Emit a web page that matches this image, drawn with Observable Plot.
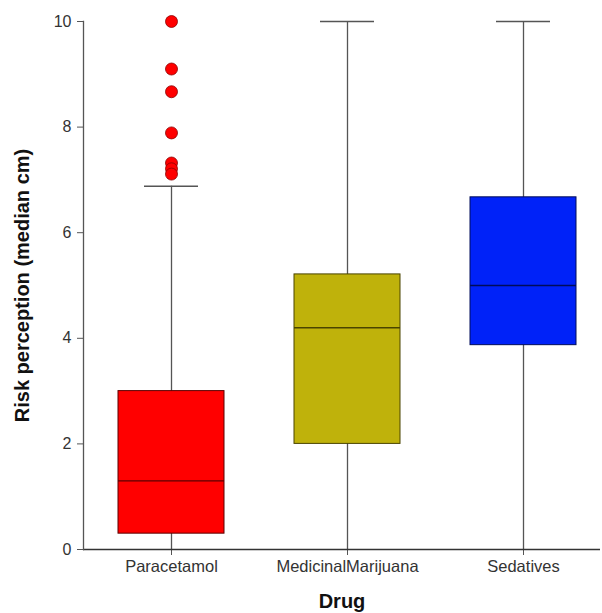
<!DOCTYPE html>
<html>
<head>
<meta charset="utf-8">
<script src="https://cdn.jsdelivr.net/npm/d3@7"></script>
<script src="https://cdn.jsdelivr.net/npm/@observablehq/plot@0.6"></script>
<style>
  html, body { margin: 0; padding: 0; background: #fff; }
  #chart svg { display: block; }
</style>
</head>
<body>
<div id="chart"></div>
<script>
const drugs = ["Paracetamol", "MedicinalMarijuana", "Sedatives"];
const q1 = [0.3, 2.0, 3.87];
const medians = [1.3, 4.2, 5.0];
const q3 = [3.0, 5.21, 6.67];
const whiskerLow = [0, 0, 0];
const whiskerHigh = [6.88, 10, 10];
const fills = ["#ff0000", "#bfb20b", "#0022f8"];
const strokes = ["#5c0000", "#4a4400", "#000c5a"];
const outlierDrug = ["Paracetamol", "Paracetamol", "Paracetamol", "Paracetamol", "Paracetamol", "Paracetamol", "Paracetamol"];
const outlierValues = [10.0, 9.1, 8.67, 7.89, 7.32, 7.21, 7.11];
const yTicks = [0, 2, 4, 6, 8, 10];

const boxes = drugs.map((d, i) => ({
  drug: d, q1: q1[i], median: medians[i], q3: q3[i],
  lo: whiskerLow[i], hi: whiskerHigh[i], fill: fills[i], stroke: strokes[i]
}));
const outliers = outlierValues.map((v, i) => ({drug: outlierDrug[i], value: v}));

const chart = Plot.plot({
  width: 602,
  height: 613,
  marginTop: 21,
  marginBottom: 64,
  marginLeft: 83,
  marginRight: 2,
  style: {fontFamily: "Liberation Sans, Arial, sans-serif", background: "#fff"},
  x: {type: "band", domain: drugs, range: [83, 611], paddingInner: 0.4, paddingOuter: 0.2, label: null},
  y: {domain: [0, 10], label: null},
  marks: [
    Plot.axisY({ticks: yTicks, tickSize: 6, tickPadding: 6, fontSize: 16, color: "#333", stroke: "#555", label: null}),
    Plot.axisX({tickSize: 6, tickPadding: 5, fontSize: 16.5, color: "#333", stroke: "#555", label: null}),
    Plot.ruleX(boxes, {x: "drug", y1: "lo", y2: "hi", stroke: "#555", strokeWidth: 1.3}),
    Plot.tickY(boxes, {x: "drug", y: "hi", stroke: "#555", strokeWidth: 1.5, insetLeft: 26, insetRight: 26}),
    Plot.barY(boxes, {x: "drug", y1: "q1", y2: "q3", fill: "fill", stroke: "stroke", strokeWidth: 1}),
    Plot.tickY(boxes, {x: "drug", y: "median", stroke: "stroke", strokeWidth: 1.3}),
    Plot.dot(outliers, {x: "drug", y: "value", r: 6, fill: "#ff0000", stroke: "#8a0000", strokeWidth: 0.8}),
    Plot.ruleY([0], {stroke: "#333", strokeWidth: 1.3}),
    Plot.frame({anchor: "left", stroke: "#555", strokeWidth: 1.3}),
    Plot.text(["Risk perception (median cm)"], {frameAnchor: "left", textAnchor: "middle", lineAnchor: "middle", rotate: -90, dx: -61, fontSize: 20, fontWeight: "bold", fill: "#111", text: d => d}),
    Plot.text(["Drug"], {frameAnchor: "bottom", textAnchor: "middle", lineAnchor: "middle", dy: 52, fontSize: 20, fontWeight: "bold", fill: "#111", text: d => d})
  ]
});
document.getElementById("chart").appendChild(chart);
</script>
</body>
</html>
